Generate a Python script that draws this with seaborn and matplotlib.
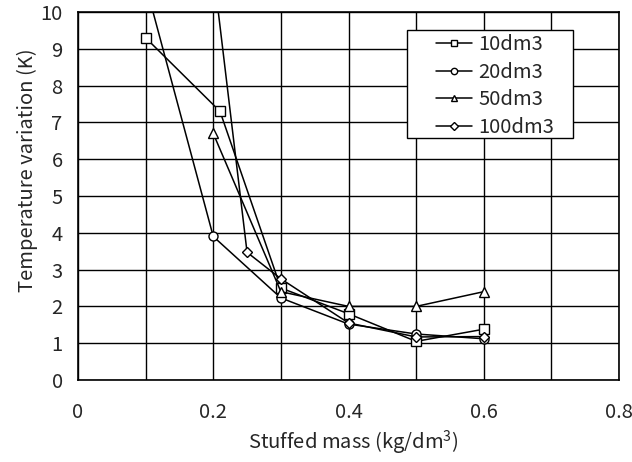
import numpy as np
import matplotlib
matplotlib.use("Agg")
import matplotlib.pyplot as plt
from matplotlib.patches import Rectangle
import seaborn as sns

# data
x_10 = [0.1, 0.21, 0.3, 0.4, 0.5, 0.6]
y_10 = [9.3, 7.3, 2.5, 1.8, 1.05, 1.38]

x_20 = [0.1, 0.2, 0.3, 0.4, 0.5, 0.6]
y_20 = [10.75, 3.9, 2.23, 1.52, 1.25, 1.12]

x_50 = [0.2, 0.3, 0.4, 0.5, 0.6]
y_50 = [6.7, 2.4, 2.0, 2.0, 2.4]

x_100 = [0.2, 0.25, 0.3, 0.4, 0.5, 0.6]
y_100 = [11.15, 3.47, 2.75, 1.55, 1.17, 1.18]

series_names = ["10dm3", "20dm3", "50dm3", "100dm3"]
xticks = [0, 0.2, 0.4, 0.6, 0.8]
xtick_labels = ["0", "0.2", "0.4", "0.6", "0.8"]
yticks = list(range(0, 11))

sns.set_style("white")
plt.rcParams["font.family"] = ["Noto Sans CJK JP", "DejaVu Sans"]
plt.rcParams["mathtext.fontset"] = "custom"
plt.rcParams["mathtext.rm"] = "Noto Sans CJK JP"

fs = 14.5

fig = plt.figure(figsize=(6.32, 4.62), dpi=100)
ax = fig.add_axes([78 / 632, 1 - 380 / 462, 541 / 632, 368 / 462])

markers = ["s", "o", "^", "D"]
sizes = [6.5, 6.5, 7, 5.5]
xs = [x_10, x_20, x_50, x_100]
ys = [y_10, y_20, y_50, y_100]

for name, mk, ms, xv, yv in zip(series_names, markers, sizes, xs, ys):
    sns.lineplot(x=xv, y=yv, ax=ax, color="black", linewidth=1.1,
                 marker=mk, markersize=ms, markerfacecolor="white",
                 markeredgecolor="black", markeredgewidth=1.0,
                 label=name, sort=False)

ax.set_xlim(0, 0.8)
ax.set_ylim(0, 10)
ax.set_xticks(xticks)
ax.set_xticklabels(xtick_labels)
ax.set_xticks(np.arange(0, 0.81, 0.1), minor=True)
ax.set_yticks(yticks)
ax.grid(which="both", color="black", linewidth=1.0)
ax.set_axisbelow(True)
for sp in ax.spines.values():
    sp.set_color("black")
    sp.set_linewidth(1.2)
ax.tick_params(axis="x", which="both", length=0, pad=16, labelsize=fs)
ax.tick_params(axis="y", which="both", length=0, pad=11, labelsize=fs)

ax.set_xlabel(r"Stuffed mass (kg/dm$^{3}$)", fontsize=fs)
ax.set_ylabel("Temperature variation (K)", fontsize=fs)
ax.xaxis.set_label_coords(0.508, -0.13)
ax.yaxis.set_label_coords(-0.074, 0.571)

# legend box
box = Rectangle((407 / 632, 1 - 138 / 462), 166 / 632, 108 / 462,
                transform=fig.transFigure, facecolor="white",
                edgecolor="black", linewidth=1.0, zorder=5)
fig.patches.append(box)

leg = ax.legend(loc="upper left", bbox_to_anchor=(436 / 632, 1 - 34 / 462),
                bbox_transform=fig.transFigure, frameon=False, fontsize=fs,
                handlelength=1.8, borderpad=0, labelspacing=0.33,
                handletextpad=0.3, markerscale=0.7, borderaxespad=0)
leg.set_zorder(6)
leg.remove()
fig.add_artist(leg)

fig.savefig("out.png", dpi=100)
